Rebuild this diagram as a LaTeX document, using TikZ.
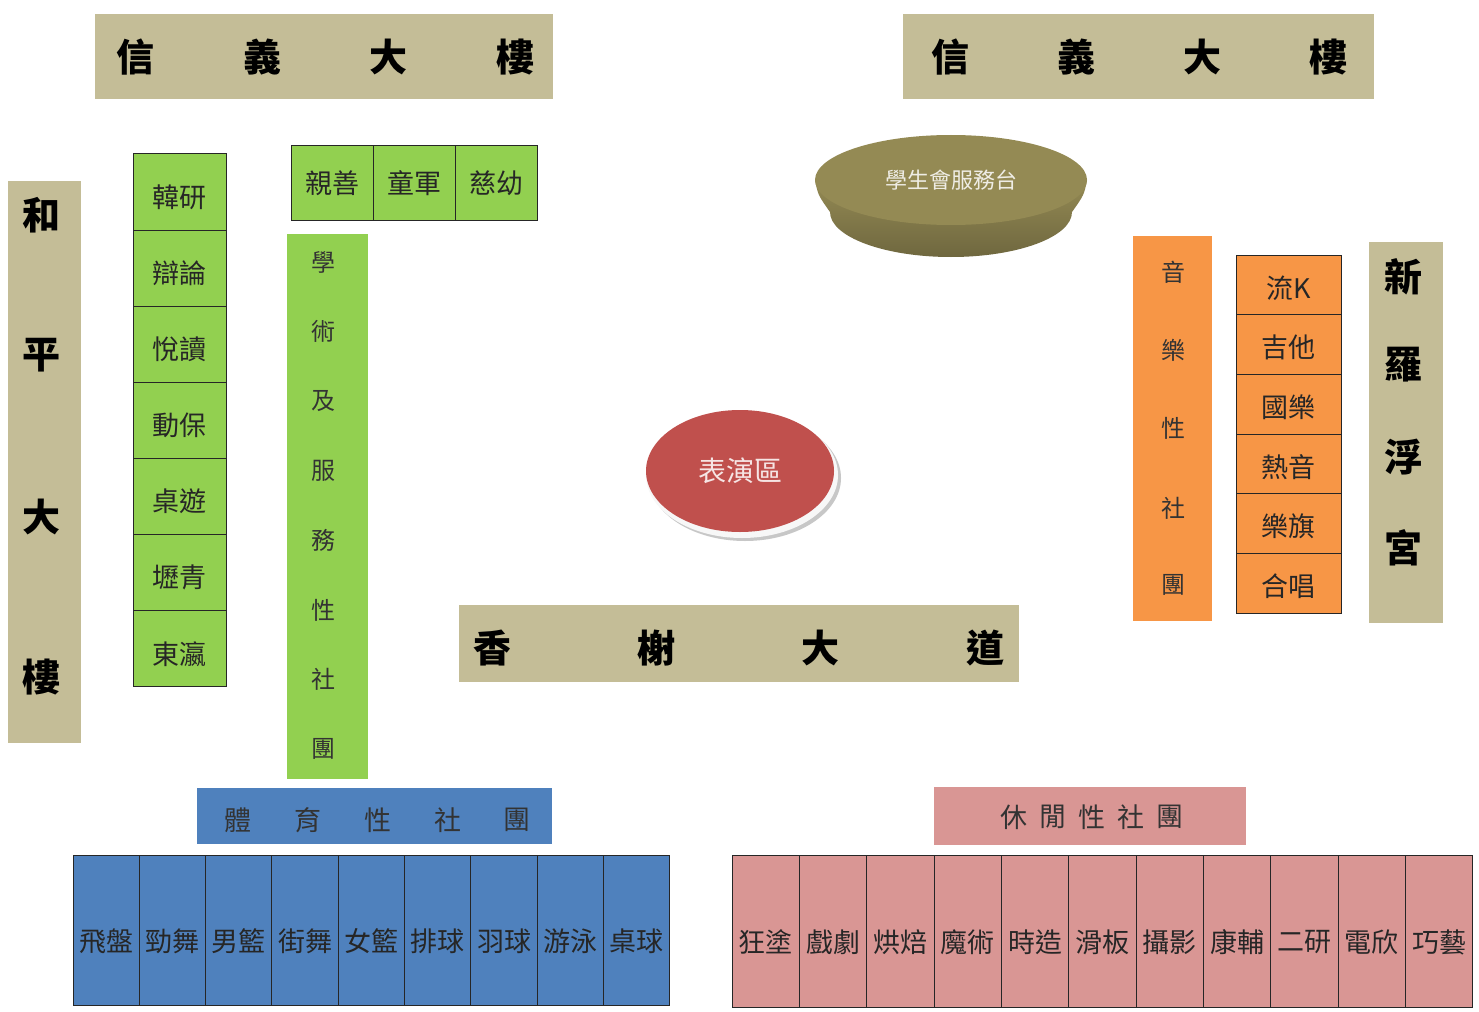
\documentclass[tikz,border=0pt]{standalone}
\usepackage{fontspec}
\newfontfamily\cjk{Noto Sans CJK TC}
\usetikzlibrary{shapes.geometric}
\definecolor{tanc}{HTML}{C4BD97}
\definecolor{grn}{HTML}{92D050}
\definecolor{org}{HTML}{F79646}
\definecolor{blu}{HTML}{4F81BD}
\definecolor{pnk}{HTML}{D99694}
\definecolor{olv}{HTML}{948A54}
\definecolor{rdc}{HTML}{C0504D}
\newcommand{\dropby}[2]{\raisebox{-#1}[\height][\depth]{#2}}
\tikzset{
  box/.style={inner sep=0pt, outer sep=0pt, anchor=north west},
  cell/.style={box, draw=black!85, line width=1pt, text=black!85,
               font=\cjk\fontsize{27}{29}\selectfont},
  bchar/.style={inner sep=0pt, text=black, font=\cjk\bfseries\fontsize{38}{40}\selectfont},
  gchar/.style={inner sep=0pt, text=black!80, font=\cjk\fontsize{24}{26}\selectfont},
  hchar/.style={inner sep=0pt, text=black!80, font=\cjk\fontsize{27}{29}\selectfont},
}
\begin{document}
\begin{tikzpicture}[x=1pt,y=-1pt]
\useasboundingbox[fill=white] (0,0) rectangle (1479,1011);

% buildings
\node[box, fill=tanc, minimum width=458, minimum height=85] (bldTL) at (95,14) {};
\foreach \c/\x [count=\i] in {信/135,義/262,大/388,樓/515}
  \node[bchar] (tl\i) at (\x,57) {\c};
\node[box, fill=tanc, minimum width=471, minimum height=85] (bldTR) at (903,14) {};
\foreach \c/\x [count=\i] in {信/950,義/1076,大/1202,樓/1328}
  \node[bchar] (tr\i) at (\x,57) {\c};
\node[box, fill=tanc, minimum width=73, minimum height=562] (bldL) at (8,181) {};
\foreach \c/\y [count=\i] in {和/215,平/355,大/517,樓/677}
  \node[bchar] (hp\i) at (41,\y) {\c};
\node[box, fill=tanc, minimum width=74, minimum height=381] (bldR) at (1369,242) {};
\foreach \c/\y [count=\i] in {新/277,羅/365,浮/457,宮/548}
  \node[bchar] (xl\i) at (1403,\y) {\c};
\node[box, fill=tanc, minimum width=560, minimum height=77] (road) at (459,605) {};
\foreach \c/\x [count=\i] in {香/492,榭/656,大/820,道/985}
  \node[bchar] (xs\i) at (\x,648) {\c};

% green column
\foreach \t [count=\i from 0] in {韓研,辯論,悅讀,動保,桌遊,壢青,東瀛}
  \node[cell, fill=grn, minimum width=93, minimum height=76.14] (g\i) at (133,{154+76.14*\i}) {\dropby{5pt}{\t}};
% green row
\foreach \t [count=\i from 0] in {親善,童軍,慈幼}
  \node[cell, fill=grn, minimum width=82, minimum height=74] (s\i) at ({291+82*\i},146) {\t};
% green vertical label
\node[box, fill=grn, minimum width=81, minimum height=545] (acad) at (287,234) {};
\foreach \c [count=\i from 0] in {學,術,及,服,務,性,社,團}
  \node[gchar] (ac\i) at (323,{262+69.6*\i}) {\c};

% orange
\node[box, fill=org, minimum width=79, minimum height=385] (music) at (1133,236) {};
\foreach \c/\y [count=\i] in {音/272,樂/350,性/428,社/508,團/585}
  \node[gchar] (mu\i) at (1173,\y) {\c};
\foreach \t [count=\i from 0] in {流K,吉他,國樂,熱音,樂旗,合唱}
  \node[cell, fill=org, minimum width=105, minimum height=59.67] (o\i) at (1236,{255+59.67*\i}) {\dropby{3pt}{\t}};

% blue
\node[box, fill=blu, minimum width=355, minimum height=56] (sport) at (197,788) {};
\foreach \c/\x [count=\i] in {體/238,育/308,性/378,社/448,團/517}
  \node[hchar] (sp\i) at (\x,820) {\c};
\foreach \t [count=\i from 0] in {飛盤,勁舞,男籃,街舞,女籃,排球,羽球,游泳,桌球}
  \node[cell, fill=blu, minimum width=66.33, minimum height=150] (b\i) at ({73+66.33*\i},855) {\dropby{11pt}{\t}};

% pink
\node[box, fill=pnk, minimum width=312, minimum height=58] (leis) at (934,787) {};
\foreach \c/\x [count=\i] in {休/1014,閒/1053,性/1092,社/1131,團/1170}
  \node[hchar] (le\i) at (\x,817) {\c};
\foreach \t [count=\i from 0] in {狂塗,戲劇,烘焙,魔術,時造,滑板,攝影,康輔,二研,電欣,巧藝}
  \node[cell, fill=pnk, minimum width=67.36, minimum height=152] (p\i) at ({732+67.36*\i},855) {\dropby{11pt}{\t}};

% service desk
\shade[top color=olv, bottom color=olv!75!black]
  (815,180) .. controls (818,195) .. (830,212) arc[start angle=180, end angle=0, x radius=121, y radius=45]
  .. controls (1084,195) .. (1087,180) -- cycle;
\node[ellipse, fill=olv, inner sep=0pt, minimum width=272, minimum height=90,
      text=white!85!olv, font=\cjk\fontsize{22}{24}\selectfont] (desk) at (951,180) {學生會服務台};

% stage
\fill[black!22] (745,478) ellipse [x radius=96, y radius=63];
\fill[gray!6] (742,475) ellipse [x radius=96, y radius=63];
\node[ellipse, fill=rdc, inner sep=0pt, minimum width=188, minimum height=122,
      text=white!85!rdc, font=\cjk\fontsize{28}{30}\selectfont] (stage) at (740,471) {表演區};
\end{tikzpicture}
\end{document}
